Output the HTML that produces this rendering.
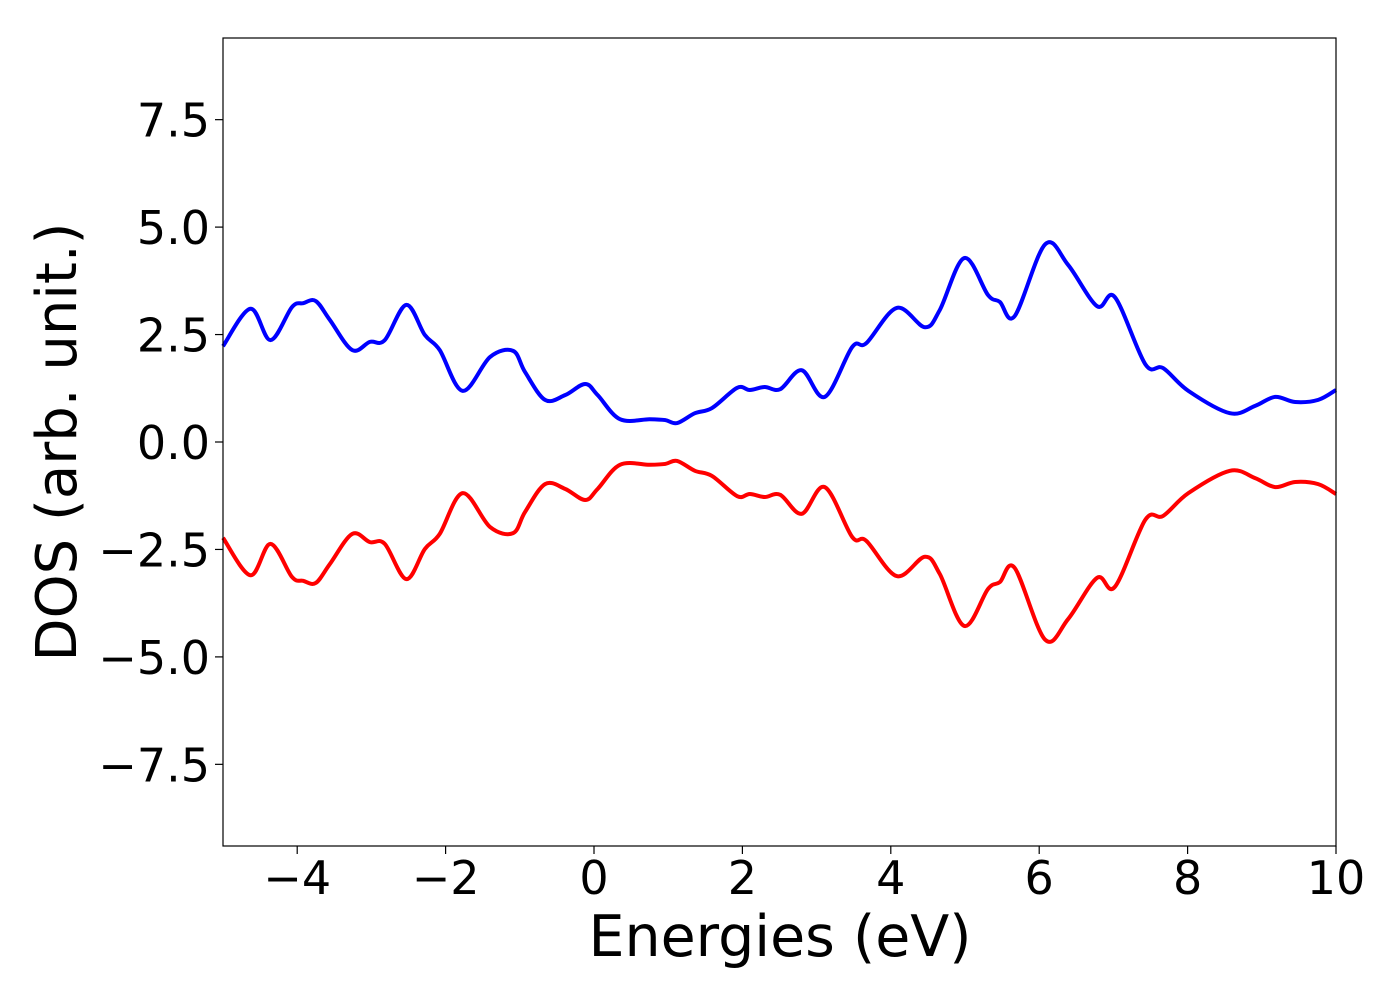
<!DOCTYPE html>
<html><head><meta charset="utf-8"><style>
html,body{margin:0;padding:0;background:#fff;}
svg{display:block;font-family:"DejaVu Sans","Liberation Sans",sans-serif;}
</style></head><body>
<svg id="chart" width="1400" height="1000">
<rect x="0" y="0" width="1400" height="1000" fill="#fff"/>
<g id="ticks"></g>
<g id="series"></g>
<rect x="223" y="38" width="1113" height="808" fill="none" stroke="#000" stroke-width="1.2"/>
<text x="780" y="956" font-size="57" text-anchor="middle">Energies (eV)</text>
<text transform="translate(76,442) rotate(-90)" font-size="56" text-anchor="middle">DOS (arb. unit.)</text>
</svg>
<script>
const energies=[-5,-4.63,-4.36,-4.07,-3.92,-3.75,-3.56,-3.26,-3.02,-2.82,-2.53,-2.28,-2.08,-1.77,-1.40,-1.09,-0.93,-0.66,-0.39,-0.12,0.05,0.35,0.75,0.96,1.12,1.36,1.59,1.93,2.10,2.30,2.51,2.80,3.11,3.48,3.67,4.08,4.46,4.66,4.99,5.31,5.47,5.67,6.08,6.39,6.78,7.02,7.43,7.67,8.01,8.57,8.91,9.18,9.45,9.76,10];
const dosUp=[2.23,3.1,2.37,3.14,3.23,3.28,2.84,2.14,2.33,2.37,3.19,2.49,2.14,1.19,1.98,2.12,1.63,0.98,1.09,1.35,1.09,0.53,0.53,0.51,0.44,0.67,0.79,1.26,1.21,1.28,1.23,1.67,1.05,2.21,2.30,3.12,2.67,3.07,4.28,3.42,3.26,2.93,4.6,4.12,3.16,3.37,1.81,1.72,1.19,0.67,0.84,1.05,0.93,0.98,1.21];
const dosDown=dosUp.map(v=>-v);
const xTicks=[-4,-2,0,2,4,6,8,10];
const yTicks=[-7.5,-5.0,-2.5,0.0,2.5,5.0,7.5];
const X0=223,X1=1336,Y0=846,Y1=38,XMIN=-5,XMAX=10,YMIN=-9.4,YMAX=9.4;
const sx=v=>X0+(v-XMIN)/(XMAX-XMIN)*(X1-X0);
const sy=v=>Y0-(v-YMIN)/(YMAX-YMIN)*(Y0-Y1);
const NS="http://www.w3.org/2000/svg";
const tg=document.getElementById('ticks');
function mk(t,a){const e=document.createElementNS(NS,t);for(const k in a)e.setAttribute(k,a[k]);return e;}
xTicks.forEach(v=>{
 const l=mk('line',{x1:sx(v),x2:sx(v),y1:Y0,y2:Y0+8,stroke:'#000','stroke-width':1.2});
 
 
 tg.appendChild(l);
 const t=mk('text',{x:sx(v),y:Y0+48,'font-size':46,'text-anchor':'middle'});
 t.textContent=(v<0?'\u2212'+Math.abs(v):String(v));
 
 
 tg.appendChild(t);
});
yTicks.forEach(v=>{
 const l=mk('line',{x1:X0-8,x2:X0,y1:sy(v),y2:sy(v),stroke:'#000','stroke-width':1.2});
 
 
 tg.appendChild(l);
 const t=mk('text',{x:X0-13,y:sy(v)+17,'font-size':46,'text-anchor':'end'});
 t.textContent=(v<0?'\u2212':'')+Math.abs(v).toFixed(1);
 
 
 tg.appendChild(t);
});
function pathFor(xs,ys){
 const p=xs.map((x,i)=>[sx(x),sy(ys[i])]);
 let d='M'+p[0][0]+','+p[0][1];
 for(let i=0;i<p.length-1;i++){
  const a=p[Math.max(i-1,0)],b=p[i],c=p[i+1],e=p[Math.min(i+2,p.length-1)];
  const c1=[b[0]+(c[0]-a[0])/6,b[1]+(c[1]-a[1])/6];
  const c2=[c[0]-(e[0]-b[0])/6,c[1]-(e[1]-b[1])/6];
  d+=' C'+c1+' '+c2+' '+c;
 }
 return d;
}
const sg=document.getElementById('series');
const up=mk('path',{d:pathFor(energies,dosUp),fill:'none',stroke:'#0000ff','stroke-width':4,'stroke-linejoin':'round'});


sg.appendChild(up);
const dn=mk('path',{d:pathFor(energies,dosDown),fill:'none',stroke:'#ff0000','stroke-width':4,'stroke-linejoin':'round'});


sg.appendChild(dn);
</script>
</body></html>
